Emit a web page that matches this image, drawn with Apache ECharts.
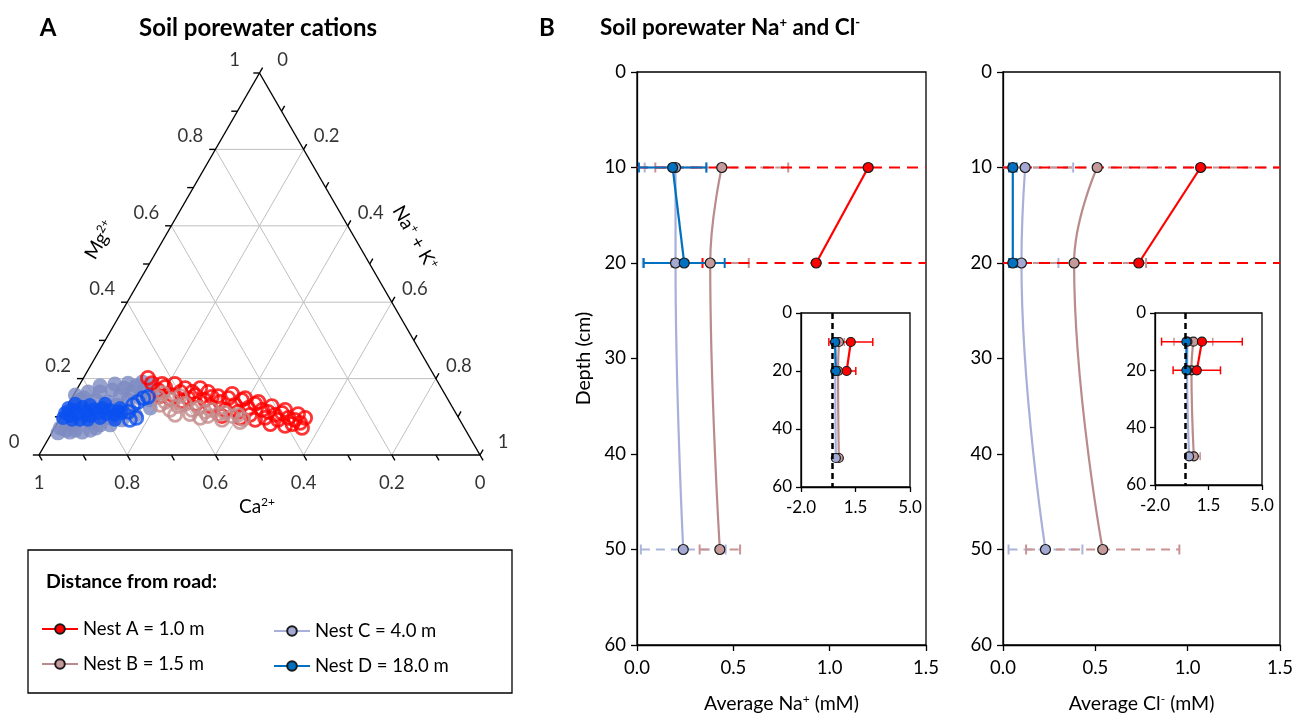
<!DOCTYPE html>
<html>
<head>
<meta charset="utf-8">
<script src="https://cdn.jsdelivr.net/npm/echarts@6/dist/echarts.min.js"></script>
<style>
html,body{margin:0;padding:0;background:#fff;}
#main{width:1293px;height:715px;}
</style>
</head>
<body>
<div id="main"></div>
<script>
var FONT = 'Lato, "Noto Sans", sans-serif';
var H = Math.sqrt(3) / 2;

// ternary samples, each pair is [Mg2+, Na+ + K+] fraction (Ca2+ is the rest)
var nestATernary = [[0.188,0.162],[0.170,0.185],[0.178,0.197],[0.157,0.224],[0.165,0.238],[0.149,0.264],[0.157,0.276],[0.175,0.278],[0.144,0.304],[0.152,0.316],[0.139,0.341],[0.149,0.355],[0.131,0.379],[0.144,0.388],[0.123,0.413],[0.134,0.423],[0.118,0.447],[0.113,0.463],[0.105,0.483],[0.110,0.496],[0.097,0.517],[0.092,0.534],[0.084,0.550],[0.081,0.534],[0.092,0.496],[0.097,0.464],[0.105,0.426],[0.113,0.395],[0.118,0.363],[0.128,0.324],[0.134,0.289],[0.141,0.254],[0.147,0.224],[0.154,0.197],
    [0.202,0.146],[0.186,0.186],[0.186,0.215],[0.175,0.244],[0.165,0.265],[0.165,0.301],[0.154,0.329],[0.160,0.358],[0.149,0.393],[0.139,0.428],[0.128,0.464],[0.118,0.499],[0.107,0.534],[0.097,0.555],[0.071,0.561],[0.076,0.520],[0.081,0.484],[0.092,0.444],[0.097,0.408],[0.102,0.364]];
var nestBTernary = [[0.152,0.194],[0.162,0.200],[0.139,0.217],[0.144,0.230],[0.118,0.238],[0.128,0.251],[0.134,0.264],[0.118,0.288],[0.107,0.289],[0.123,0.300],[0.113,0.320],[0.102,0.332],[0.118,0.333],[0.107,0.353],[0.110,0.367],[0.102,0.387],[0.105,0.399],[0.094,0.416],
    [0.105,0.256],[0.097,0.317],[0.092,0.369],[0.086,0.413],[0.154,0.243],[0.131,0.209]];
var nestCTernary = [[0.071,0.013],[0.092,0.011],[0.113,0.010],[0.079,0.036],[0.131,0.019],[0.097,0.045],[0.149,0.028],[0.118,0.052],[0.086,0.077],[0.144,0.057],[0.165,0.056],[0.113,0.091],[0.139,0.087],[0.170,0.081],[0.131,0.110],[0.157,0.106],[0.175,0.106],[0.144,0.130],[0.165,0.129],[0.181,0.130],[0.149,0.155],[0.170,0.155],[0.183,0.161],[0.097,0.113],[0.065,0.084],[0.065,0.050],[0.079,0.099],[0.118,0.147],[0.144,0.180],[0.065,0.029],
    [0.058,0.014],[0.060,0.040],[0.060,0.068],[0.071,0.094],[0.079,0.122],[0.092,0.142],[0.105,0.166],[0.123,0.191],[0.157,0.185],[0.165,0.029],[0.181,0.048],[0.186,0.079],[0.188,0.108],[0.191,0.139],[0.157,0.004],[0.144,0.021]];
var nestDTernary = [[0.110,0.004],[0.123,0.005],[0.102,0.019],[0.118,0.020],[0.107,0.035],[0.126,0.035],[0.113,0.051],[0.102,0.065],[0.120,0.065],[0.110,0.079],[0.123,0.082],[0.107,0.099],[0.118,0.102],[0.105,0.118],[0.115,0.122],[0.110,0.133],[0.092,0.029],[0.092,0.065],[0.097,0.090],
    [0.097,0.006],[0.134,0.015],[0.131,0.050],[0.134,0.083],[0.092,0.126],[0.092,0.047],[0.123,0.122]];
var nestDTernaryOpen = [[0.113,0.146],[0.131,0.148],[0.139,0.155],[0.149,0.162],[0.152,0.171],[0.097,0.172],[0.092,0.160]];
var ternaryTicks = [0, 0.2, 0.4, 0.6, 0.8, 1];

// depth profiles (cm) and averages (mM) with standard deviations
var depth2 = [10, 20];
var depth3 = [10, 20, 50];
var naA = [1.20, 0.93],       naASd = [1.41, 0.59];
var naB = [0.44, 0.38, 0.43], naBSd = [0.345, 0.20, 0.105];
var naC = [0.20, 0.20, 0.24], naCSd = [0.16, 0.17, 0.22];
var naD = [0.185, 0.245],     naDSd = [0.175, 0.21];
var clA = [1.07, 0.735],      clASd = [2.64, 1.55];
var clB = [0.51, 0.385, 0.54], clBSd = [1.27, 0.39, 0.415];
var clC = [0.12, 0.10, 0.23], clCSd = [0.26, 0.20, 0.20];
var clD = [0.053, 0.053],     clDSd = [0.02, 0.02];

var nestNames = ['Nest A = 1.0 m', 'Nest B = 1.5 m', 'Nest C = 4.0 m', 'Nest D = 18.0 m'];

var supRich = {
    s: {fontSize: 12, padding: [0, 0, 9, 0], fontFamily: FONT},
    sb: {fontSize: 13, fontWeight: 'bold', padding: [0, 0, 10, 0], fontFamily: FONT}
};

function ternaryPt(p){
    return [p[1] + p[0] / 2, p[0] * H];
}

// ternary frame: [x1,y1,x2,y2,kind] kind 0 grid, 1 frame, 2 tick
var frameSegs = [];
[0.2,0.4,0.6,0.8].forEach(function(v){
    var a = ternaryPt([v,0]), b = ternaryPt([v,1-v]);
    frameSegs.push([a[0],a[1],b[0],b[1],0]);
    a = ternaryPt([0,v]); b = ternaryPt([1-v,v]);
    frameSegs.push([a[0],a[1],b[0],b[1],0]);
    a = ternaryPt([0,1-v]); b = ternaryPt([1-v,0]);
    frameSegs.push([a[0],a[1],b[0],b[1],0]);
});
frameSegs.push([0,0,1,0,1],[0,0,0.5,H,1],[1,0,0.5,H,1]);
var tl = 0.014;
for(var k=0;k<=10;k++){
    var t = k/10, p;
    p = ternaryPt([t,0]);
    frameSegs.push([p[0],p[1],p[0]-tl,p[1],2]);
    p = ternaryPt([0,1-t]);
    frameSegs.push([p[0],p[1],p[0]+0.5*tl,p[1]-H*tl,2]);
    p = ternaryPt([1-t,t]);
    frameSegs.push([p[0],p[1],p[0]+0.5*tl,p[1]+H*tl,2]);
}

var tickLabels = [];
ternaryTicks.forEach(function(t){
    var txt = (t === 0 || t === 1) ? String(t) : t.toFixed(1);
    tickLabels.push({value: ternaryPt([0,1-t]), name: txt, label:{offset:[0,28]}});
    tickLabels.push({value: ternaryPt([t,0]), name: txt, label:{offset:[-25,-13]}});
    tickLabels.push({value: ternaryPt([1-t,t]), name: txt, label:{offset:[23,-13]}});
});

function ternarySeries(name, pts, color, hollow, size){
    return {
        name: name, type:'scatter', xAxisIndex:0, yAxisIndex:0, silent:true,
        symbol:'circle', symbolSize:size,
        data: pts.map(ternaryPt),
        itemStyle: hollow ? {color:'rgba(0,0,0,0)', borderColor:color, borderWidth:2.8} : {color:color},
        z:3
    };
}

function lineSeries(name, xi, depths, vals, color, fill, smooth, size, width){
    var data = [];
    for(var i=0;i<depths.length;i++){
        data.push([vals[i], depths[i]]);
    }
    return {
        name:name, type:'line', xAxisIndex:xi, yAxisIndex:xi, silent:true,
        data:data, smooth: smooth ? 0.45 : false,
        symbol:'circle', symbolSize:size, showSymbol:true,
        lineStyle:{color:color, width:width},
        itemStyle:{color:fill, borderColor:'#1a1a1a', borderWidth:1.2},
        z:4
    };
}

function errSeries(xi, depths, means, sds, color, dash, xmin, xmax, capH, width){
    var data = [];
    for(var i=0;i<depths.length;i++){
        data.push([means[i], depths[i], sds[i]]);
    }
    return {
        type:'custom', xAxisIndex:xi, yAxisIndex:xi, silent:true, z:2,
        data:data, encode:{x:0, y:1},
        renderItem:function(params, api){
            var m = api.value(0), d = api.value(1), s = api.value(2);
            var lo = m - s, hi = m + s;
            var a = api.coord([Math.max(lo, xmin), d]);
            var b = api.coord([Math.min(hi, xmax), d]);
            var st = {stroke:color, lineWidth:width};
            if(dash){ st.lineDash = dash; }
            var ch = [{type:'line', shape:{x1:a[0],y1:a[1],x2:b[0],y2:b[1]}, style:st}];
            var cst = {stroke:color, lineWidth:width};
            if(lo >= xmin){
                ch.push({type:'line', shape:{x1:a[0],y1:a[1]-capH,x2:a[0],y2:a[1]+capH}, style:cst});
            }
            if(hi <= xmax){
                ch.push({type:'line', shape:{x1:b[0],y1:b[1]-capH,x2:b[0],y2:b[1]+capH}, style:cst});
            }
            return {type:'group', children:ch};
        }
    };
}

var colA = '#ff0000', colBLine = '#b98b8b', colBFill = '#c49a9a', colBErr = '#c99393';
var colCLine = '#a8b0da', colCFill = '#a3a9d2', colCErr = '#abb5dc', colD = '#0070c0';
var dashA = [11,7], dashBC = [9,6];

var axisLineStyle = {color:'#000', width:1.3};
function mainX(gi, name){
    return {
        gridIndex:gi, type:'value', min:0, max:1.5, interval:0.5,
        axisLine:{show:true, onZero:false, lineStyle:axisLineStyle},
        axisTick:{show:true, length:6, lineStyle:axisLineStyle},
        axisLabel:{fontSize:18.5, color:'#000', fontFamily:FONT, margin:14, formatter:function(v){return v.toFixed(1);}},
        splitLine:{show:false},
        name:name, nameLocation:'middle', nameGap:48,
        nameTextStyle:{fontSize:19.5, color:'#000', fontFamily:FONT, rich:supRich}
    };
}
function mainY(gi, name){
    return {
        gridIndex:gi, type:'value', inverse:true, min:0, max:60, interval:10,
        axisLine:{show:true, onZero:false, lineStyle:axisLineStyle},
        axisTick:{show:true, length:6, lineStyle:axisLineStyle},
        axisLabel:{fontSize:18.5, color:'#000', fontFamily:FONT, margin:11},
        splitLine:{show:false},
        name:name, nameLocation:'middle', nameGap:43, nameRotate:90,
        nameTextStyle:{fontSize:19.5, color:'#000', fontFamily:FONT}
    };
}
function insetX(gi){
    return {
        gridIndex:gi, type:'value', min:-2, max:5,
        axisLine:{show:true, onZero:false, lineStyle:axisLineStyle},
        axisTick:{show:true, length:5, customValues:[-2,1.5,5], lineStyle:axisLineStyle},
        axisLabel:{fontSize:17, color:'#000', fontFamily:FONT, margin:12, customValues:[-2,1.5,5], formatter:function(v){return v.toFixed(1);}},
        splitLine:{show:false}
    };
}
function insetY(gi){
    return {
        gridIndex:gi, type:'value', inverse:true, min:0, max:60, interval:20,
        axisLine:{show:true, onZero:false, lineStyle:axisLineStyle},
        axisTick:{show:true, length:5, lineStyle:axisLineStyle},
        axisLabel:{fontSize:17, color:'#000', fontFamily:FONT, margin:9},
        splitLine:{show:false}
    };
}

var series = [];
// main Na profile (grid 1) - line series first so the legend picks them
series.push(lineSeries(nestNames[0], 1, depth2, naA, colA, colA, false, 10, 2.2));
series.push(lineSeries(nestNames[1], 1, depth3, naB, colBLine, colBFill, true, 10, 2.2));
series.push(lineSeries(nestNames[2], 1, depth3, naC, colCLine, colCFill, true, 10, 2.2));
series.push(lineSeries(nestNames[3], 1, depth2, naD, colD, colD, false, 10, 2.2));
series.push(errSeries(1, depth3, naC, naCSd, colCErr, dashBC, 0, 1.5, 5, 2));
series.push(errSeries(1, depth3, naB, naBSd, colBErr, dashBC, 0, 1.5, 5, 2));
series.push(errSeries(1, depth2, naA, naASd, colA, dashA, 0, 1.5, 5, 2));
series.push(errSeries(1, depth2, naD, naDSd, colD, null, 0, 1.5, 5, 2));
// main Cl profile (grid 2)
series.push(lineSeries(nestNames[1], 2, depth3, clB, colBLine, colBFill, true, 10, 2.2));
series.push(lineSeries(nestNames[2], 2, depth3, clC, colCLine, colCFill, true, 10, 2.2));
series.push(lineSeries(nestNames[3], 2, depth2, clD, colD, colD, false, 10, 2.2));
series.push(lineSeries(nestNames[0], 2, depth2, clA, colA, colA, false, 10, 2.2));
series.push(errSeries(2, depth3, clC, clCSd, colCErr, dashBC, 0, 1.5, 5, 2));
series.push(errSeries(2, depth3, clB, clBSd, colBErr, dashBC, 0, 1.5, 5, 2));
series.push(errSeries(2, depth2, clA, clASd, colA, dashA, 0, 1.5, 5, 2));
series.push(errSeries(2, depth2, clD, clDSd, colD, null, 0, 1.5, 5, 2));
// insets (grid 3 Na, grid 4 Cl)
[[3, naA, naASd, naB, naBSd, naC, naCSd, naD, naDSd], [4, clA, clASd, clB, clBSd, clC, clCSd, clD, clDSd]].forEach(function(s){
    var gi = s[0];
    series.push(errSeries(gi, depth3, s[5], s[6], colCErr, null, -2, 5, 4, 1.5));
    series.push(errSeries(gi, depth3, s[3], s[4], colBErr, null, -2, 5, 4, 1.5));
    series.push(errSeries(gi, depth2, s[1], s[2], colA, null, -2, 5, 4, 1.5));
    series.push(errSeries(gi, depth2, s[7], s[8], colD, null, -2, 5, 4, 1.5));
    var la = lineSeries(nestNames[0], gi, depth2, s[1], colA, colA, false, 9, 2.2);
    la.markLine = {silent:true, symbol:'none', label:{show:false},
        lineStyle:{color:'#000', type:[6,4], width:2.5}, data:[{xAxis:0}]};
    series.push(lineSeries(nestNames[1], gi, depth3, s[3], colBLine, colBFill, true, 9, 2.2));
    series.push(lineSeries(nestNames[2], gi, depth3, s[5], colCLine, colCFill, true, 9, 2.2));
    series.push(la);
    series.push(lineSeries(nestNames[3], gi, depth2, s[7], colD, colD, false, 9, 2.2));
});

// ternary (grid 0)
series.push({
    type:'custom', xAxisIndex:0, yAxisIndex:0, silent:true, z:1,
    data:frameSegs, encode:{x:[0,2], y:[1,3]},
    renderItem:function(params, api){
        var a = api.coord([api.value(0), api.value(1)]);
        var b = api.coord([api.value(2), api.value(3)]);
        var kind = api.value(4);
        return {type:'line', shape:{x1:a[0],y1:a[1],x2:b[0],y2:b[1]},
            style:{stroke: kind === 0 ? '#c0c0c0' : '#000', lineWidth: kind === 0 ? 1 : 1.4}};
    }
});
series.push({
    type:'scatter', xAxisIndex:0, yAxisIndex:0, silent:true, symbolSize:0,
    data:tickLabels,
    label:{show:true, position:'inside', formatter:'{b}', fontSize:18.5, color:'#000', fontFamily:FONT}
});
series.push(ternarySeries('C cations', nestCTernary, '#7d8bc2', false, 15));
series.push(ternarySeries('A cations', nestATernary, '#ff0000', true, 13));
series.push(ternarySeries('B cations', nestBTernary, '#c48c8c', true, 13));
series.push(ternarySeries('D cations', nestDTernary, '#0a50f0', false, 14));
series.push(ternarySeries('D cations open', nestDTernaryOpen, '#0a50f0', true, 13));

var myChart = echarts.init(document.getElementById('main'));
var option = {
    backgroundColor:'#fff',
    animation:false,
    textStyle:{fontFamily:FONT},
    grid:[
        {left:39, top:73, width:441, height:382, outerBoundsMode:'none'},
        {left:637, top:72, width:289, height:573, outerBoundsMode:'none', show:true, borderColor:'#000', borderWidth:1.3, backgroundColor:'rgba(0,0,0,0)'},
        {left:1003, top:72, width:277, height:573, outerBoundsMode:'none', show:true, borderColor:'#000', borderWidth:1.3, backgroundColor:'rgba(0,0,0,0)'},
        {left:801, top:313, width:109, height:174, outerBoundsMode:'none', show:true, borderColor:'#000', borderWidth:1.3, backgroundColor:'#fff'},
        {left:1155, top:313, width:107, height:172, outerBoundsMode:'none', show:true, borderColor:'#000', borderWidth:1.3, backgroundColor:'#fff'}
    ],
    xAxis:[
        {gridIndex:0, type:'value', min:0, max:1, show:false},
        mainX(1, 'Average Na{s|+} (mM)'),
        mainX(2, 'Average Cl{s|-} (mM)'),
        insetX(3),
        insetX(4)
    ],
    yAxis:[
        {gridIndex:0, type:'value', min:0, max:H, show:false},
        mainY(1, 'Depth (cm)'),
        mainY(2, ''),
        insetY(3),
        insetY(4)
    ],
    legend:[
        {data:[nestNames[0], nestNames[1]], orient:'vertical', left:36, top:613, itemWidth:36, itemHeight:12, itemGap:13,
         selectedMode:false, textStyle:{fontSize:18.5, color:'#000', fontFamily:FONT, lineHeight:22}},
        {data:[nestNames[2], nestNames[3]], orient:'vertical', left:268, top:615, itemWidth:36, itemHeight:12, itemGap:13,
         selectedMode:false, textStyle:{fontSize:18.5, color:'#000', fontFamily:FONT, lineHeight:22}}
    ],
    graphic:[
        {type:'text', x:48, y:28, style:{text:'A', fontSize:24, fontWeight:'bold', fontFamily:FONT, fill:'#000', align:'center', verticalAlign:'middle'}},
        {type:'text', x:258, y:28, style:{text:'Soil porewater cations', fontSize:24, fontWeight:'bold', fontFamily:FONT, fill:'#000', align:'center', verticalAlign:'middle'}},
        {type:'text', x:547, y:28, style:{text:'B', fontSize:24, fontWeight:'bold', fontFamily:FONT, fill:'#000', align:'center', verticalAlign:'middle'}},
        {type:'text', x:600, y:28, style:{text:'Soil porewater Na{sb|+} and Cl{sb|-}', rich:supRich, fontSize:22.5, fontWeight:'bold', fontFamily:FONT, fill:'#000', align:'left', verticalAlign:'middle'}},
        {type:'text', x:257, y:507, style:{text:'Ca{s|2+}', rich:supRich, fontSize:19, fontFamily:FONT, fill:'#000', align:'center', verticalAlign:'middle'}},
        {type:'text', x:100, y:240, rotation:Math.PI/3, style:{text:'Mg{s|2+}', rich:supRich, fontSize:19, fontFamily:FONT, fill:'#000', align:'center', verticalAlign:'middle'}},
        {type:'text', x:415, y:238, rotation:-Math.PI/3, style:{text:'Na{s|+} + K{s|+}', rich:supRich, fontSize:19, fontFamily:FONT, fill:'#000', align:'center', verticalAlign:'middle'}},
        {type:'rect', shape:{x:28, y:550, width:484, height:143}, style:{fill:'none', stroke:'#000', lineWidth:1.3}},
        {type:'text', x:46, y:582, style:{text:'Distance from road:', fontSize:19.5, fontWeight:'bold', fontFamily:FONT, fill:'#000', align:'left', verticalAlign:'middle'}}
    ],
    series:series
};
myChart.setOption(option);
</script>
</body>
</html>
